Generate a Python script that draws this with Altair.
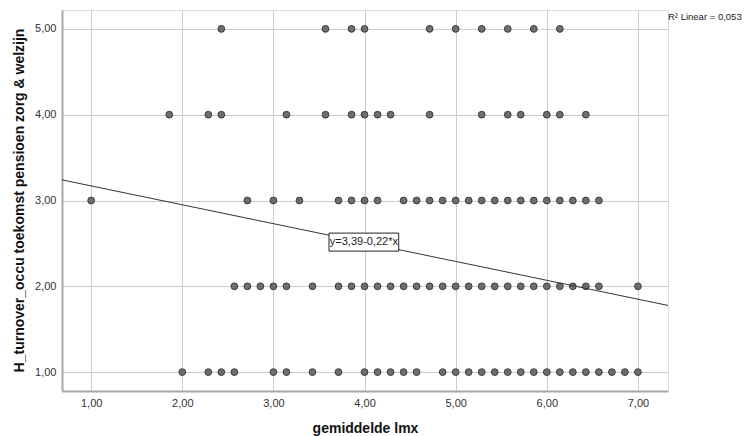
import altair as alt
import pandas as pd

# x values are in sevenths (gemiddelde lmx = k / 7)
row5_sevenths = [17, 25, 27, 28, 33, 35, 37, 39, 41, 43]
row4_sevenths = [13, 16, 17, 22, 25, 27, 28, 29, 30, 33, 37, 39, 40, 42, 43, 45]
row3_sevenths = [7, 19, 21, 23, 26, 27, 28, 29] + list(range(31, 47))
row2_sevenths = [18, 19, 20, 21, 22, 24, 26, 27, 28, 29, 30] + list(range(31, 47)) + [49]
row1_sevenths = [14, 16, 17, 18, 21, 22, 24, 26, 28, 29, 30, 31, 32] + list(range(34, 50))

rows = {5: row5_sevenths, 4: row4_sevenths, 3: row3_sevenths, 2: row2_sevenths, 1: row1_sevenths}
records = []
for yv, ks in rows.items():
    for k in ks:
        records.append({"lmx": k / 7.0, "turnover": yv})
points_df = pd.DataFrame(records)

intercept = 3.39
slope = -0.22
x_domain = [0.68, 7.33]
y_domain = [0.78, 5.22]
x_ticks = [1, 2, 3, 4, 5, 6, 7]
y_ticks = [1, 2, 3, 4, 5]

line_df = pd.DataFrame({"lmx": x_domain, "turnover": [intercept + slope * v for v in x_domain]})

label_text = "y=3,39-0,22*x"
label_df = pd.DataFrame({"x1": [3.61], "x2": [4.375], "y1": [2.41], "y2": [2.62], "xc": [3.993], "yc": [2.515], "t": [label_text]})

fmt = "replace(format(datum.value, '.2f'), '.', ',')"

xscale = alt.Scale(domain=x_domain, nice=False, zero=False)
yscale = alt.Scale(domain=y_domain, nice=False, zero=False)

xaxis = alt.Axis(values=x_ticks, labelExpr=fmt, title="gemiddelde lmx", grid=True,
                 gridColor="#cccccc", gridWidth=1, domainColor="#a8a8a8", domainWidth=2,
                 ticks=False, labelPadding=6, labelFontSize=11, labelColor="#333333",
                 labelFont="Liberation Sans", titleFont="Liberation Sans", titleFontSize=14,
                 titleFontWeight="bold", titleColor="#111111", titleY=37, titleX=303,
                 titleBaseline="middle")
yaxis = alt.Axis(values=y_ticks, labelExpr=fmt, title="H_turnover_occu toekomst pensioen zorg & welzijn",
                 grid=True, gridColor="#cccccc", gridWidth=1, domainColor="#a8a8a8", domainWidth=2,
                 ticks=False, labelPadding=6, labelFontSize=11, labelColor="#333333",
                 labelFont="Liberation Sans", titleFont="Liberation Sans", titleFontSize=14,
                 titleFontWeight="bold", titleColor="#111111", titleX=-43, titleY=190,
                 titleAngle=-90, titleBaseline="middle", titleAlign="center")

pts = alt.Chart(points_df).mark_point(filled=True, shape="circle", size=46, fill="#6e6e6e",
                                      stroke="#3c3c3c", strokeWidth=1, opacity=1).encode(
    x=alt.X("lmx:Q", scale=xscale, axis=xaxis),
    y=alt.Y("turnover:Q", scale=yscale, axis=yaxis),
)

line = alt.Chart(line_df).mark_line(color="#333333", strokeWidth=1, clip=True).encode(
    x=alt.X("lmx:Q", scale=xscale),
    y=alt.Y("turnover:Q", scale=yscale),
)

box = alt.Chart(label_df).mark_rect(fill="white", stroke="#222222", strokeWidth=1).encode(
    x=alt.X("x1:Q", scale=xscale), x2="x2:Q",
    y=alt.Y("y1:Q", scale=yscale), y2="y2:Q",
)
txt = alt.Chart(label_df).mark_text(font="Liberation Sans", fontSize=11, color="#222222").encode(
    x=alt.X("xc:Q", scale=xscale), y=alt.Y("yc:Q", scale=yscale), text="t:N",
)

r2 = alt.Chart(pd.DataFrame({"t": ["R² Linear = 0,053"]})).mark_text(
    font="Liberation Sans", fontSize=9.5, color="#222222", align="left", baseline="middle"
).encode(x=alt.value(606), y=alt.value(7), text="t:N")

chart = alt.layer(pts, line, box, txt, r2).properties(
    width=606, height=381,
    autosize=alt.AutoSizeParams(type="none"),
    padding={"left": 62, "top": 10, "right": 78, "bottom": 45},
).configure_view(strokeWidth=0, stroke="transparent").configure(background="white")

chart.save("out.html", embed_options={"renderer": "svg", "actions": False})
